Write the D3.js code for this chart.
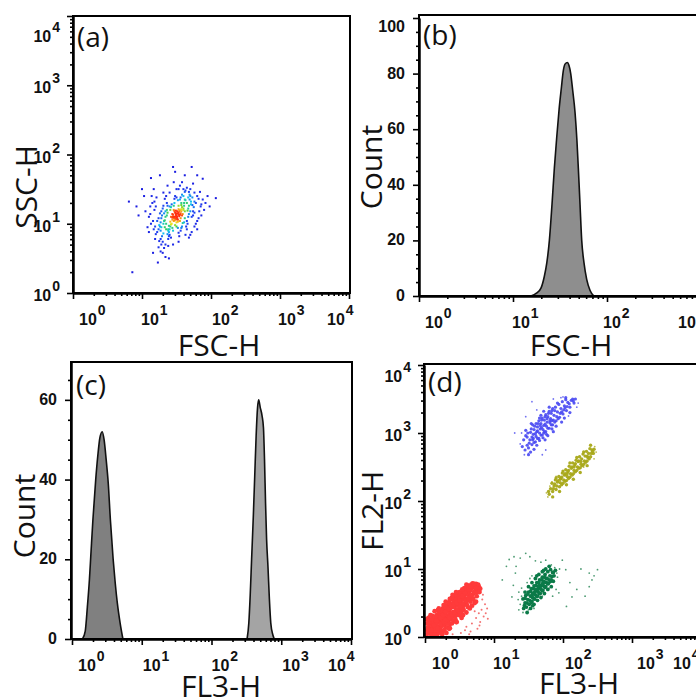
<!DOCTYPE html>
<html>
<head>
<meta charset="utf-8">
<script src="https://d3js.org/d3.v7.min.js"></script>
<style>
  body { margin: 0; background: #fff; }
  .lbl { font-family: "Liberation Sans", Arial, sans-serif; font-weight: bold; font-size: 16px; fill: #111; }
  .ttl { font-family: "Open Sans", sans-serif; fill: #111; }
</style>
</head>
<body>
<script>
// ---------- data (log10 values x100 for scatter plots) ----------

// (a) FSC-H vs SSC-H
var scatterA = [
  [150,112],[148,108],[153,116],[146,104],[155,120],[151,110],[149,114],[144,106],[157,118],[152,106],
  [147,118],[154,111],[158,124],[143,100],[150,102],[156,108],[145,113],[160,120],[142,110],[153,126],
  [148,98],[159,114],[146,120],[155,104],[151,118],[141,103],[157,127],[149,106],[162,118],[144,114],
  [150,115],[147,110],[153,113],[149,119],[152,103],[146,108],[156,115],[151,107],[148,116],[154,118],
  [145,110],[158,112],[150,109],[153,121],[147,105],[155,113],[149,111],[152,115],[144,109],[157,121],
  [135,100],[165,130],[138,92],[162,108],[128,108],[170,118],[140,125],[158,96],[132,115],[168,126],
  [137,85],[155,135],[125,98],[172,110],[145,90],[160,140],[130,122],[175,124],[142,80],[152,94],
  [127,90],[166,100],[136,130],[163,134],[133,95],[171,132],[147,130],[139,88],[156,90],[168,114],
  [122,104],[178,130],[134,110],[161,126],[129,82],[150,138],[143,128],[165,92],[126,115],[173,138],
  [138,78],[158,142],[131,100],[176,116],[141,96],[154,82],[124,92],[169,142],[148,140],[136,120],
  [133,105],[167,122],[139,97],[161,102],[129,112],[171,128],[141,120],[159,101],[134,118],[166,119],
  [138,90],[157,130],[127,102],[174,118],[144,94],[162,135],[131,126],[173,127],[140,84],[150,96],
  [128,95],[165,104],[137,126],[161,130],[135,92],[169,135],[146,126],[140,92],[157,94],[167,110],
  [124,108],[176,132],[136,112],[160,122],[131,86],[152,134],[142,124],[164,96],[128,118],[170,140],
  [139,82],[156,138],[132,104],[174,112],[142,99],[153,87],[126,96],[167,138],[147,136],[137,116],
  [118,120],[180,140],[120,85],[185,125],[113,100],[170,150],[128,70],[160,150],[115,130],[182,108],
  [125,75],[165,152],[110,110],[188,135],[132,65],[155,155],[117,92],[178,100],[135,140],[172,88],
  [112,125],[190,120],[138,68],[150,150],[121,138],[184,146],[127,60],[163,84],[108,95],[176,145],
  [140,145],[145,70],[119,78],[186,112],[131,145],[168,80],[114,140],[192,130],[124,66],[158,160],
  [110,88],[180,92],[137,155],[153,74],[117,150],[174,158],[130,58],[146,160],[105,118],[195,140],
  [120,125],[182,136],[122,88],[183,118],[116,104],[168,146],[130,74],[162,146],[118,132],[180,104],
  [127,78],[163,148],[112,114],[186,128],[134,70],[153,150],[119,96],[176,96],[133,136],[170,84],
  [81,132],[113,166],[86,30],[123,44],[139,50],[172,182],[207,137],[100,150],[95,112],[162,170],
  [126,170],[148,175],[188,165],[116,58],[134,52],[198,125],[103,140],[145,182],[92,125],[180,170]
];

// (b) FSC-H histogram: [log10 FSC, count]
var histB = [[1.19,0],[1.25,1],[1.30,3],[1.333,7],[1.36,12],[1.387,20],[1.415,33],[1.44,46],[1.465,57],
  [1.49,67],[1.515,75],[1.535,81],[1.555,83.5],[1.578,84],[1.595,83],[1.614,80],[1.635,74],[1.66,66],
  [1.68,56],[1.695,46],[1.713,33],[1.731,20],[1.755,12],[1.784,6],[1.82,2],[1.86,0]];

// (c) FL3-H histogram, two peaks
var histC1 = [[0.15,0],[0.19,2],[0.22,8],[0.25,15],[0.27,21],[0.30,30],[0.34,40],[0.37,46],[0.40,50.5],
  [0.433,52],[0.46,50],[0.49,45],[0.52,39],[0.55,30],[0.59,20],[0.62,14],[0.65,9],[0.69,4],[0.73,0]];
var histC2 = [[2.51,0],[2.535,4],[2.555,11],[2.575,20],[2.60,31],[2.62,41],[2.64,51],[2.66,58],[2.676,60],
  [2.70,58],[2.725,56],[2.745,53],[2.76,45],[2.775,34],[2.79,25],[2.81,18],[2.83,10],[2.85,4],[2.88,1],[2.90,0]];

// (d) FL3-H vs FL2-H, four populations
var dRed = [
  [5,8],[9,6],[4,14],[12,9],[8,12],[15,6],[3,10],[11,15],[17,10],[7,18],[14,14],[20,8],[6,5],[19,15],[13,20],
  [22,12],[10,22],[24,16],[17,19],[26,9],[21,22],[15,25],[28,18],[12,27],[25,24],[30,14],[19,28],[23,27],
  [32,20],[17,32],[27,29],[34,24],[21,33],[30,28],[36,19],[25,35],[33,31],[38,26],[20,36],[29,34],[40,30],
  [35,36],[27,39],[42,24],[31,40],[38,34],[44,31],[26,42],[36,41],[41,37],[47,33],[33,45],[39,44],[45,39],
  [30,46],[49,38],[43,44],[37,48],[51,42],[47,46],[41,50],[53,37],[35,51],[49,49],[45,53],[55,45],[40,55],
  [52,50],[57,48],[47,56],[43,58],[54,55],[59,51],[50,58],[61,47],[56,58],[46,61],[60,56],[63,54],[52,62],
  [58,62],[65,59],[49,64],[62,63],[67,57],[55,66],[64,66],[69,62],[59,68],[71,65],[66,69],[61,71],[73,68],
  [68,72],[75,66],[64,74],[70,74],[76,71],[72,77],[67,77],[78,74],[74,78],[69,79],[77,77],[10,3],[18,4],
  [24,5],[6,22],[9,26],[33,14],[39,20],[16,30],[22,38],[44,26],[29,44],[50,32],[34,50],[56,40],[39,58],
  [62,44],[44,62],[66,52],[50,66],[70,56],[57,72],[75,60],[62,76],[14,10],[18,13],[23,19],[27,22],[31,25],
  [35,28],[39,32],[43,36],[47,40],[51,45],[55,49],[59,53],[63,57],[67,61],[71,66],[74,72],[9,10],[13,17],
  [17,24],[22,28],[26,32],[30,37],[34,41],[38,46],[42,48],[46,50],[50,54],[54,60],[58,65],[63,70],[66,74],
  [28,10],[36,13],[46,22],[53,28],[60,36],[68,46],[74,52],[79,66],[3,20],[5,28],[11,31],[19,40],[27,47],
  [36,56],[45,66],[54,70],[60,77],[71,78],[80,71],[2,4],[14,3],[31,6],
  [20,42],[30,52],[40,62],[25,4],[35,12],[45,22],[55,32],[65,42],[72,50],[2,26],[8,32],[14,38]
];
var dRedSparse = [[82,40],[85,30],[78,35],[80,22],[87,48],[72,38],[76,12],[68,20],[60,15],[83,55],
  [90,42],[66,8],[58,10],[52,6],[88,35],[74,28],[84,62],[70,45],[64,4],[79,17],[91,27],[40,4]];

var dGreen = [
  [143,42],[145,50],[142,56],[144,46],[147,44],[149,55],[146,61],[148,50],[145,57],
  [151,48],[153,60],[150,66],[152,54],[149,63],[154,51],[155,52],[157,64],[154,71],[156,58],[153,67],
  [158,56],[155,61],[159,56],[161,68],[158,75],[160,62],[157,71],[162,60],[159,66],[163,60],[165,72],
  [162,80],[164,66],[161,76],[166,64],[163,70],[167,64],[169,76],[166,84],[168,70],[165,80],[170,68],
  [167,74],[171,69],[173,81],[170,88],[172,75],[169,84],[174,73],[171,79],[175,74],[177,86],[174,92],
  [176,80],[173,88],[178,78],[179,79],[181,90],[178,96],[180,84],[182,82],[183,84],[185,95],[182,99],
  [184,89],[187,90],[189,98],[186,95],[160,70],[166,76],[172,82],[156,64],[164,74],[170,78],[176,86],
  [150,74],[155,80],[160,86],[165,92],[170,96],[175,100],[145,66],[158,48],[163,54],[168,58],[173,64],
  [178,70],[183,74],[153,42],[148,36],[162,90],[172,98],[180,104],[186,82],[156,46]
];
var dGreenSparse = [[129,118],[131,94],[146,123],[112,84],[126,59],[136,40],[194,65],[204,99],[213,59],
  [226,100],[238,94],[242,84],[250,99],[238,74],[191,94],[175,113],[199,113],[118,104],[122,114],
  [138,116],[152,118],[160,112],[168,110],[183,106],[210,80],[220,70],[232,60],[245,90],[205,45],
  [185,60],[128,76],[132,104],[140,60],[138,48],[150,40],[136,66],[188,102],[192,88],[155,90],
  [148,80],[180,72],[170,60],[135,55],[158,42],[195,100],[140,72],[152,86],[142,36],[190,70]];

var dBlue = [
  [145,275],[143,290],[148,282],[146,296],[141,280],[150,278],[152,290],[149,300],[151,285],[148,294],
  [153,272],[155,283],[157,298],[154,306],[156,290],[153,301],[158,286],[155,294],[160,287],[162,302],
  [159,310],[161,295],[158,305],[163,292],[160,299],[161,314],[165,292],[167,306],[164,314],[166,300],
  [163,309],[168,297],[165,318],[166,289],[170,297],[172,311],[169,319],[171,305],[168,314],[173,302],
  [170,322],[171,293],[169,308],[175,302],[177,316],[174,324],[176,310],[173,319],[178,307],[175,327],
  [176,298],[174,313],[180,307],[182,321],[179,329],[181,315],[178,324],[183,312],[180,332],[181,318],
  [185,312],[187,326],[184,333],[186,319],[183,329],[188,316],[185,336],[190,318],[192,331],[189,338],
  [191,324],[188,333],[193,321],[195,323],[197,336],[194,342],[196,329],[198,331],[200,328],[202,340],
  [199,346],[201,334],[203,337],[205,333],[207,345],[204,349],[206,339],[210,338],[212,348],[209,343],
  [214,350],[216,344],[218,350],[215,347],[157,292],[163,303],[167,311],[172,300],[177,321],[184,318],
  [150,268],[156,312],[162,282],[168,326],[174,290],[180,338],[186,302],[192,344],[198,316],[204,352],
  [146,304],[158,276],[166,322],[178,296],[190,310],[202,322],[210,330],[154,314],[172,332],[184,306]
];
var dBlueSparse = [[155,346],[146,324],[170,268],[200,353],[138,284],[150,270],[222,344],[186,350],
  [130,300],[175,275],[208,325],[162,334],[140,300],[144,268],[197,352],[220,338]];

var dOlive = [
  [180,210],[182,218],[179,214],[185,214],[187,222],[184,226],[186,218],[190,217],[192,228],[189,231],
  [191,222],[188,225],[195,221],[197,233],[194,236],[196,227],[193,230],[198,224],[200,226],[202,238],
  [199,241],[201,231],[198,235],[203,229],[205,230],[207,243],[204,246],[206,236],[203,240],[208,233],
  [210,235],[212,248],[209,251],[211,240],[208,245],[213,238],[215,240],[217,253],[214,256],[216,245],
  [213,250],[218,243],[220,245],[222,258],[219,260],[221,250],[218,255],[223,248],[225,249],[227,262],
  [224,265],[226,254],[223,259],[228,252],[230,254],[232,266],[229,269],[231,259],[233,257],[235,259],
  [237,270],[234,273],[236,264],[238,262],[240,265],[242,275],[239,277],[241,270],[244,270],[245,276],
  [243,273],[206,240],[216,250],[226,258],[196,232],[235,266],
  [190,234],[200,244],[210,256],[220,264],[230,272],[195,214],[205,224],[215,232],[225,242],[235,252],
  [185,206],[240,282]
];
var dOliveSparse = [[178,206],[246,280],[176,212],[200,244],[230,250],[190,236],[245,262],[184,228],
  [248,272],[181,222]];

var decades = [0, 1, 2, 3, 4];

// ---------- drawing ----------
var svg = d3.select('body').append('svg').attr('width', 696).attr('height', 699)

function pw(v) { return Math.pow(10, v / 100) }

function makePanel(p) {
  var g = svg.append('g')
  var x = d3.scaleLog().domain([1, 1e4]).range(p.xr)
  var y = p.yLog ? d3.scaleLog().domain([1, 1e4]).range(p.yr)
                 : d3.scaleLinear().domain([0, p.yMax]).range(p.yr)
  return { g: g, x: x, y: y, p: p }
}

function minorLog() {
  var t = []
  for (var e = 0; e < 4; e++) for (var m = 2; m < 10; m++) t.push(m * Math.pow(10, e))
  return t
}

function finishPanel(P) {
  var p = P.p, g = P.g, x = P.x, y = P.y
  // frame
  g.append('rect').attr('x', p.left).attr('y', p.top)
    .attr('width', p.right - p.left).attr('height', p.bottom - p.top)
    .attr('fill', 'none').attr('stroke', '#000').attr('stroke-width', 2)

  // x axis (log)
  var majX = decades.map(function(d){ return Math.pow(10, d) })
  g.append('g').attr('class', 'tk').attr('transform', 'translate(0,' + p.bottom + ')')
    .call(d3.axisBottom(x).tickValues(majX).tickSize(6).tickSizeOuter(0).tickFormat(''))
  g.append('g').attr('class', 'tk').attr('transform', 'translate(0,' + p.bottom + ')')
    .call(d3.axisBottom(x).tickValues(minorLog()).tickSize(3).tickSizeOuter(0).tickFormat(''))

  decades.forEach(function(d, i) {
    var t = g.append('text').attr('class', 'lbl')
      .attr('x', x(Math.pow(10, d)) + p.xoff[i]).attr('y', p.bottom + 32).text('10')
    t.append('tspan').attr('dy', -10).attr('dx', 1).style('font-size', '14px').text(d)
  })

  // y axis
  if (p.yLog) {
    g.append('g').attr('class', 'tk').attr('transform', 'translate(' + p.left + ',0)')
      .call(d3.axisLeft(y).tickValues(majX).tickSize(6).tickSizeOuter(0).tickFormat(''))
    g.append('g').attr('class', 'tk').attr('transform', 'translate(' + p.left + ',0)')
      .call(d3.axisLeft(y).tickValues(minorLog()).tickSize(3).tickSizeOuter(0).tickFormat(''))
    decades.forEach(function(d) {
      var ty = d === 4 ? p.topLab : y(Math.pow(10, d)) + 8
      var t = g.append('text').attr('class', 'lbl')
        .attr('x', p.left - 13).attr('y', ty).attr('text-anchor', 'end').text('10')
      t.append('tspan').attr('dy', -10).attr('dx', 1).style('font-size', '14px').text(d)
    })
  } else {
    var maj = d3.range(0, p.yMax + 0.01, 20), mnr = d3.range(5, p.yMax, 5).filter(function(v){ return v % 20 })
    g.append('g').attr('class', 'tk').attr('transform', 'translate(' + p.left + ',0)')
      .call(d3.axisLeft(y).tickValues(maj).tickSize(6).tickSizeOuter(0).tickFormat(''))
    g.append('g').attr('class', 'tk').attr('transform', 'translate(' + p.left + ',0)')
      .call(d3.axisLeft(y).tickValues(mnr).tickSize(3).tickSizeOuter(0).tickFormat(''))
    maj.forEach(function(v) {
      var ty = y(v) + 5
      if (y(v) - p.top < 10) ty += 9
      g.append('text').attr('class', 'lbl').attr('x', p.left - 14).attr('y', ty)
        .attr('text-anchor', 'end').text(v)
    })
  }
  g.selectAll('.tk path').attr('stroke-width', 2)
  g.selectAll('.tk line').attr('stroke-width', 1.6)

  // titles
  g.append('text').attr('class', 'ttl').attr('x', p.xt[0]).attr('y', p.xt[1])
    .attr('text-anchor', 'middle').style('font-size', '30px').text(p.xTitle)
  g.append('text').attr('class', 'ttl')
    .attr('transform', 'translate(' + p.yt[0] + ',' + p.yt[1] + ') rotate(-90)')
    .attr('text-anchor', 'middle').style('font-size', '30px').text(p.yTitle)
  g.append('text').attr('class', 'ttl').attr('x', p.lab[0]).attr('y', p.lab[1])
    .style('font-size', '28px').text(p.label)
}

function drawHist(P, data, fill) {
  var area = d3.area()
    .x(function(d){ return P.x(Math.pow(10, d[0])) })
    .y0(P.y(0)).y1(function(d){ return P.y(d[1]) })
    .curve(d3.curveMonotoneX)
  P.g.append('path').datum(data).attr('d', area)
    .attr('fill', fill).attr('stroke', '#111').attr('stroke-width', 1.6)
}

function drawDots(P, data, color, r, op) {
  P.g.append('g').selectAll('circle').data(data).enter().append('circle')
    .attr('cx', function(d){ return P.x(pw(d[0])) })
    .attr('cy', function(d){ return P.y(pw(d[1])) })
    .attr('r', r).attr('fill', color).attr('fill-opacity', op)
}

// panel (a)
var A = makePanel({ left: 73, right: 350, top: 16, bottom: 293, xr: [73, 349], yr: [293, 16], yLog: true,
  xoff: [6, -1, 1, -2, -22], topLab: 42,
  xTitle: 'FSC-H', yTitle: 'SSC-H', xt: [219, 356], yt: [37, 187], label: '(a)', lab: [77, 47] })
var dens = scatterA.map(function(a) {
  var n = 0
  scatterA.forEach(function(b) {
    var dx = a[0] - b[0], dy = a[1] - b[1]
    if (dx * dx + dy * dy < 144) n++
  })
  return { v: a, n: n }
}).sort(function(p, q){ return p.n - q.n })
var maxN = d3.max(dens, function(d){ return d.n })
var dcol = d3.scaleLinear().domain([1, maxN * 0.3, maxN * 0.42, maxN * 0.55, maxN * 0.72, maxN * 0.9])
  .range(['#1a1ae0', '#2040f0', '#10c8f0', '#40d040', '#f0e818', '#ff3010']).clamp(true)
A.g.append('g').selectAll('rect').data(dens).enter().append('rect')
  .attr('x', function(d){ return A.x(pw(d.v[0])) - 1 })
  .attr('y', function(d){ return A.y(pw(d.v[1])) - 1 })
  .attr('width', 2).attr('height', 2)
  .attr('fill', function(d){ return dcol(d.n) })
finishPanel(A)

// panel (b)
var B = makePanel({ left: 419, right: 795, top: 15, bottom: 296, xr: [419, 795], yr: [296, 18], yMax: 100,
  xoff: [6, -1, -4, -23, -23],
  xTitle: 'FSC-H', yTitle: 'Count', xt: [571, 356], yt: [382, 167], label: '(b)', lab: [423, 45] })
drawHist(B, histB, '#8e8e8e')
finishPanel(B)

// panel (c)
var C = makePanel({ left: 71, right: 352, top: 362, bottom: 639, xr: [72, 351], yr: [639, 362], yMax: 69.5,
  xoff: [6, 1, 0, 1, -23],
  xTitle: 'FL3-H', yTitle: 'Count', xt: [221, 697], yt: [35, 516], label: '(c)', lab: [76, 395] })
drawHist(C, histC1, '#808080')
drawHist(C, histC2, '#a4a4a4')
finishPanel(C)

// panel (d)
var D = makePanel({ left: 424, right: 702, top: 364, bottom: 637, xr: [425, 701], yr: [637, 365], yLog: true,
  xoff: [7, -1, 2, 5, -28], topLab: 382,
  xTitle: 'FL3-H', yTitle: 'FL2-H', xt: [579, 694], yt: [383, 511], label: '(d)', lab: [428, 392] })
drawDots(D, dRedSparse, '#f05050', 1, 0.8)
drawDots(D, dRed, '#ff3b3b', 2.4, 1)
drawDots(D, dGreenSparse, '#2e8a5a', 0.9, 0.85)
drawDots(D, dGreen, '#0b7a48', 1.9, 1)
drawDots(D, dBlueSparse, '#5a5af0', 0.9, 0.85)
drawDots(D, dBlue, '#4848f2', 1.6, 0.9)
drawDots(D, dOliveSparse, '#b0b030', 0.9, 0.85)
drawDots(D, dOlive, '#a8a818', 1.7, 0.95)
finishPanel(D)
</script>
</body>
</html>
